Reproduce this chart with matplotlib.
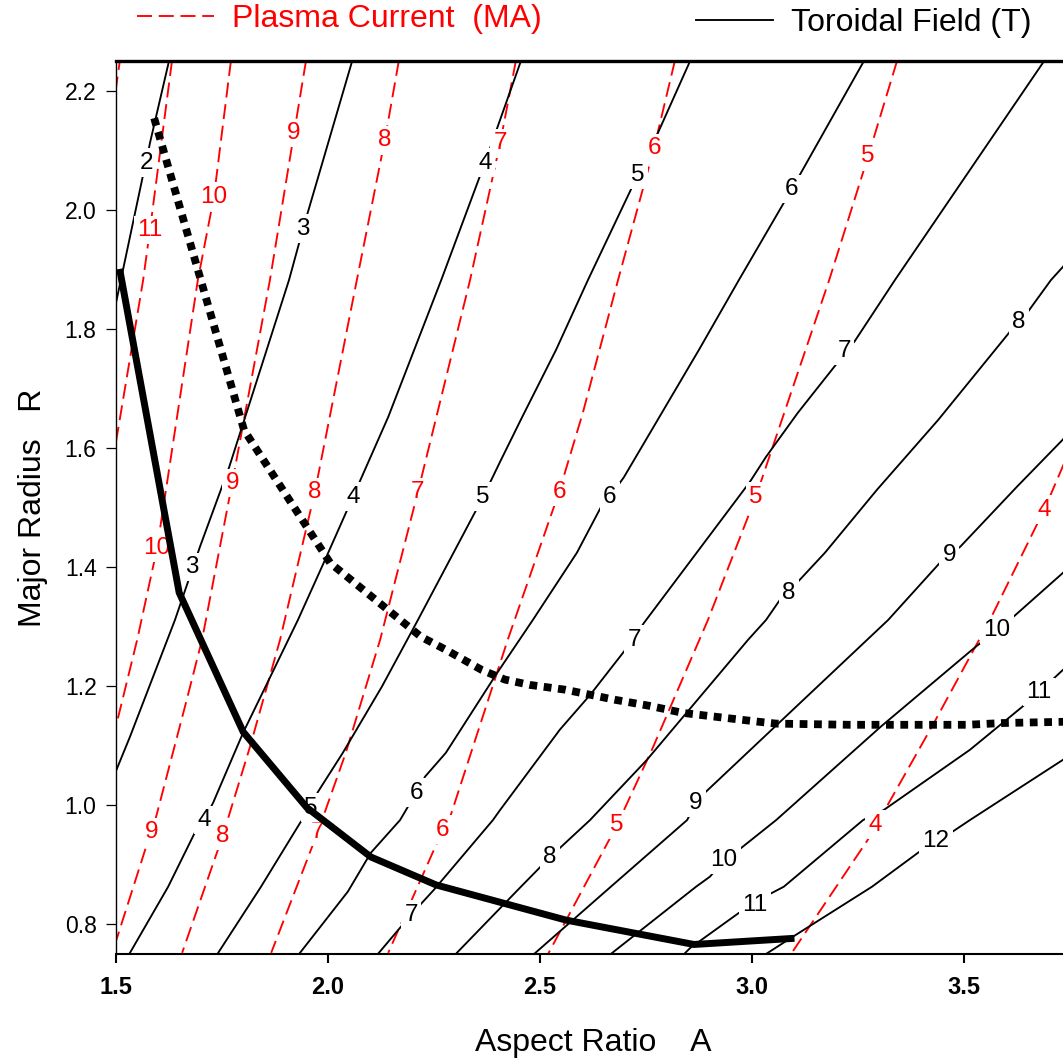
import matplotlib
matplotlib.use("Agg")
import matplotlib.pyplot as plt
from matplotlib.lines import Line2D

plt.rcParams['font.family'] = ['Liberation Sans', 'DejaVu Sans']

# plasma current contours (MA), points (A, R)
ip12 = [(1.511, 2.26), (1.497, 2.19)]
ip11 = [(1.632, 2.25), (1.580, 1.966), (1.564, 1.882), (1.498, 1.602)]
ip10 = [(1.771, 2.25), (1.731, 2.022), (1.693, 1.882), (1.597, 1.432), (1.550, 1.278), (1.498, 1.127)]
ip9 = [(1.948, 2.25), (1.920, 2.129), (1.863, 1.882), (1.774, 1.541), (1.703, 1.278),
       (1.665, 1.172), (1.597, 0.987), (1.585, 0.955), (1.571, 0.930), (1.497, 0.765)]
ip8 = [(2.167, 2.25), (2.134, 2.117), (2.068, 1.882), (1.969, 1.526), (1.887, 1.278),
       (1.816, 1.098), (1.752, 0.949), (1.656, 0.752)]
ip7 = [(2.443, 2.25), (2.406, 2.112), (2.335, 1.882), (2.212, 1.526), (2.123, 1.278),
       (2.042, 1.088), (1.976, 0.955), (1.866, 0.752)]
ip6 = [(2.818, 2.25), (2.769, 2.104), (2.684, 1.882), (2.601, 1.659), (2.545, 1.526),
       (2.424, 1.278), (2.288, 0.980), (2.271, 0.959), (2.142, 0.752)]
ip5 = [(3.342, 2.25), (3.274, 2.090), (3.182, 1.882), (3.009, 1.518), (2.896, 1.311),
       (2.767, 1.098), (2.682, 0.967), (2.519, 0.75)]
ip4 = [(3.76, 1.614), (3.689, 1.496), (3.561, 1.311), (3.429, 1.138), (3.311, 0.989),
       (3.290, 0.967), (3.278, 0.947), (3.092, 0.75)]

# toroidal field contours (T)
b2 = [(1.625, 2.25), (1.580, 2.112), (1.571, 2.079), (1.564, 2.059), (1.498, 1.837)]
b3 = [(2.057, 2.25), (1.941, 1.968), (1.908, 1.882), (1.767, 1.568), (1.698, 1.434),
      (1.639, 1.311), (1.533, 1.115), (1.498, 1.054)]
b4 = [(2.455, 2.25), (2.370, 2.079), (2.267, 1.882), (2.142, 1.652), (2.059, 1.518),
      (1.993, 1.412), (1.929, 1.311), (1.800, 1.122), (1.729, 1.004), (1.708, 0.975),
      (1.686, 0.954), (1.623, 0.863), (1.533, 0.752)]
b5 = [(2.854, 2.25), (2.778, 2.129), (2.731, 2.059), (2.613, 1.882), (2.538, 1.765),
      (2.458, 1.652), (2.406, 1.577), (2.366, 1.518), (2.212, 1.311), (2.127, 1.199),
      (2.035, 1.088), (1.976, 1.022), (1.960, 0.996), (1.934, 0.970), (1.842, 0.863),
      (1.741, 0.752)]
b6 = [(3.264, 2.25), (3.113, 2.059), (3.094, 2.035), (2.969, 1.882), (2.875, 1.765),
      (2.698, 1.551), (2.665, 1.518), (2.644, 1.501), (2.587, 1.424), (2.483, 1.311),
      (2.396, 1.219), (2.278, 1.088), (2.229, 1.048), (2.208, 1.021), (2.170, 0.975),
      (2.101, 0.920), (2.047, 0.855), (1.934, 0.752)]
b7 = [(3.689, 2.25), (3.337, 1.882), (3.241, 1.778), (3.217, 1.763), (3.198, 1.740),
      (3.108, 1.659), (3.033, 1.585), (2.995, 1.543), (2.880, 1.434), (2.745, 1.306),
      (2.722, 1.281), (2.698, 1.258), (2.618, 1.185), (2.547, 1.127), (2.406, 0.992),
      (2.389, 0.975), (2.250, 0.858), (2.196, 0.816), (2.120, 0.752)]
b8 = [(3.76, 1.93), (3.733, 1.904), (3.705, 1.882), (3.651, 1.829), (3.630, 1.812),
      (3.608, 1.795), (3.439, 1.647), (3.295, 1.530), (3.172, 1.424), (3.108, 1.375),
      (3.087, 1.357), (3.066, 1.345), (3.033, 1.311), (2.991, 1.278), (2.752, 1.076),
      (2.618, 0.975), (2.524, 0.913), (2.455, 0.863), (2.304, 0.752)]
b9 = [(3.76, 1.64), (3.733, 1.614), (3.625, 1.535), (3.491, 1.434), (3.465, 1.420),
      (3.443, 1.407), (3.321, 1.311), (2.889, 1.021), (2.868, 1.004), (2.847, 0.975),
      (2.667, 0.863), (2.486, 0.75)]
b10 = [(3.76, 1.41), (3.733, 1.390), (3.608, 1.311), (3.578, 1.295), (3.519, 1.261),
       (3.304, 1.132), (3.057, 0.975), (2.969, 0.925), (2.934, 0.908), (2.901, 0.880),
       (2.868, 0.863), (2.667, 0.75)]
b11 = [(3.76, 1.245), (3.733, 1.227), (3.677, 1.190), (3.637, 1.165), (3.514, 1.093),
       (3.311, 0.992), (3.262, 0.975), (3.075, 0.863), (3.040, 0.850), (3.007, 0.833),
       (2.969, 0.819), (2.854, 0.760), (2.84, 0.75)]
b12 = [(3.76, 1.09), (3.733, 1.076), (3.514, 0.975), (3.472, 0.955), (3.434, 0.940),
       (3.401, 0.925), (3.283, 0.863), (3.092, 0.777), (3.033, 0.75)]

# inline labels (value, A, R)
current_labels = [(11, 1.580, 1.966),
                  (10, 1.731, 2.022), (10, 1.597, 1.432),
                  (9, 1.920, 2.129), (9, 1.774, 1.541), (9, 1.585, 0.955),
                  (8, 2.134, 2.117), (8, 1.969, 1.526), (8, 1.752, 0.949),
                  (7, 2.406, 2.112), (7, 2.212, 1.526), (7, 1.976, 0.955),
                  (6, 2.769, 2.104), (6, 2.545, 1.526), (6, 2.271, 0.959),
                  (5, 3.274, 2.090), (5, 3.009, 1.518), (5, 2.682, 0.967),
                  (4, 3.689, 1.496), (4, 3.290, 0.967)]
field_labels = [(2, 1.571, 2.079),
                (3, 1.941, 1.968), (3, 1.679, 1.400),
                (4, 2.370, 2.079), (4, 2.059, 1.518), (4, 1.708, 0.975),
                (5, 2.731, 2.059), (5, 2.366, 1.518), (5, 1.960, 0.996),
                (6, 3.094, 2.035), (6, 2.665, 1.518), (6, 2.208, 1.021),
                (7, 3.217, 1.763), (7, 2.722, 1.278), (7, 2.196, 0.816),
                (8, 3.630, 1.812), (8, 3.087, 1.357), (8, 2.524, 0.913),
                (9, 3.465, 1.420), (9, 2.868, 1.004),
                (10, 3.578, 1.295), (10, 2.934, 0.908),
                (11, 3.677, 1.190), (11, 3.007, 0.833),
                (12, 3.434, 0.940)]

# thick solid curve
solid_A = [1.510, 1.649, 1.800, 1.950, 2.101, 2.255, 2.561, 2.863, 3.092]
solid_R = [1.895, 1.357, 1.123, 0.996, 0.913, 0.866, 0.807, 0.766, 0.776]

# thick dotted curve
dotted_A = [1.590, 1.802, 2.005, 2.219, 2.278, 2.363, 2.417, 2.476, 2.559, 2.677, 2.757,
            2.837, 2.932, 3.017, 3.057, 3.231, 3.507, 3.592, 3.733, 3.76]
dotted_R = [2.154, 1.630, 1.407, 1.283, 1.261, 1.227, 1.211, 1.202, 1.194, 1.177, 1.167,
            1.155, 1.147, 1.140, 1.137, 1.135, 1.135, 1.138, 1.140, 1.141]

current_lines = [ip12, ip11, ip10, ip9, ip8, ip7, ip6, ip5, ip4]
field_lines = [b2, b3, b4, b5, b6, b7, b8, b9, b10, b11, b12]

fig = plt.figure(figsize=(10.63, 10.61), dpi=100)
ax = fig.add_axes([116/1063, 107/1061, 954/1063, 893/1061])

dash = (0, (8.0, 3.6))
for pts in current_lines:
    a, r = zip(*pts)
    ax.plot(a, r, color='red', lw=1.35, linestyle=dash, zorder=2)
for pts in field_lines:
    a, r = zip(*pts)
    ax.plot(a, r, color='black', lw=1.35, zorder=2)

box = dict(facecolor='white', edgecolor='none', pad=2.5)
for val, a, r in current_labels:
    ax.text(a, r, str(val), color='red', fontsize=17.5, ha='center', va='center',
            bbox=box, zorder=3)
for val, a, r in field_labels:
    ax.text(a, r, str(val), color='black', fontsize=17.5, ha='center', va='center',
            bbox=box, zorder=3)

ax.plot(solid_A, solid_R, color='black', lw=5, solid_joinstyle='miter', zorder=4)
ax.plot(dotted_A, dotted_R, color='black', lw=5.6, linestyle=(0, (1, 0.85)),
        dash_capstyle='butt', zorder=4)

ax.set_xlim(1.5, 3.75)
ax.set_ylim(0.75, 2.25)
ax.set_xticks([1.5, 2.0, 2.5, 3.0, 3.5])
ax.set_xticklabels(['1.5', '2.0', '2.5', '3.0', '3.5'], fontweight='bold')
ax.set_yticks([0.8, 1.0, 1.2, 1.4, 1.6, 1.8, 2.0, 2.2])
ax.set_yticklabels(['0.8', '1.0', '1.2', '1.4', '1.6', '1.8', '2.0', '2.2'])
ax.tick_params(axis='x', direction='out', length=6.5, width=1.5, labelsize=17, pad=9)
ax.tick_params(axis='y', direction='out', length=7.5, width=0.9, labelsize=16.5, pad=6.5)
ax.spines['left'].set_linewidth(1.0)
ax.spines['bottom'].set_linewidth(1.5)
ax.spines['top'].set_linewidth(2.4)
ax.spines['right'].set_visible(False)

ax.set_xlabel('Aspect Ratio    A', fontsize=23, labelpad=21)
ax.set_ylabel('Major Radius   R', fontsize=23, labelpad=12)

h_ip = Line2D([], [], color='red', lw=1.35, linestyle=dash)
h_bt = Line2D([], [], color='black', lw=1.35)
fig.legend([h_ip], ['Plasma Current  (MA)'], loc='center left',
           bbox_to_anchor=(137/1063, 1 - 19/1061), frameon=False, fontsize=23,
           handlelength=2.4, handletextpad=0.56, borderpad=0, borderaxespad=0,
           labelcolor='red')
fig.legend([h_bt], ['Toroidal Field (T)'], loc='center left',
           bbox_to_anchor=(696/1063, 1 - 23/1061), frameon=False, fontsize=23,
           handlelength=2.4, handletextpad=0.56, borderpad=0, borderaxespad=0)

fig.savefig('out.png', dpi=100)
